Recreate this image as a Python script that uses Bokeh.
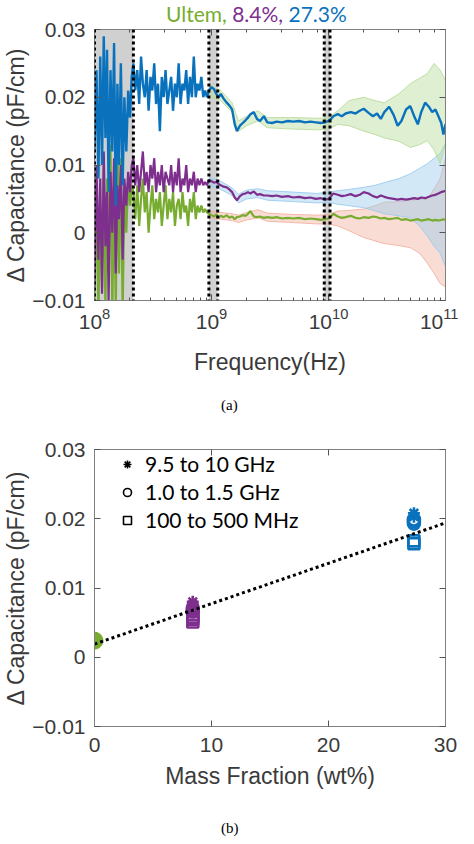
from bokeh.plotting import figure
from bokeh.layouts import column
from bokeh.models import (Span, BoxAnnotation, FixedTicker, LogAxis, LinearAxis,
                          Legend, LegendItem, CustomJSTickFormatter, Div)
from bokeh.embed import file_html
from bokeh.resources import INLINE

# ---------------- data: panel (a) ----------------
freq_ghz = [0.100, 0.104, 0.108, 0.112, 0.116, 0.120, 0.124, 0.128, 0.132, 0.137, 0.142, 0.147,
            0.152, 0.157, 0.162, 0.168, 0.174, 0.180, 0.187, 0.194, 0.201, 0.208,
            0.215, 0.223, 0.232, 0.241, 0.250, 0.259, 0.269, 0.279, 0.290, 0.301,
            0.312, 0.324, 0.336, 0.349, 0.362, 0.376, 0.390, 0.405, 0.420, 0.436,
            0.452, 0.469, 0.487, 0.505, 0.524, 0.544, 0.565, 0.586, 0.608, 0.631,
            0.655, 0.680, 0.706, 0.733, 0.760, 0.789, 0.819, 0.850, 0.882, 0.915,
            0.95, 1.0, 1.05, 1.1, 1.15, 1.2, 1.27, 1.35, 1.42, 1.5,
            1.58, 1.65, 1.75, 1.85, 1.95, 2.05, 2.15, 2.3, 2.45, 2.6,
            2.8, 3.0, 3.3, 3.6, 4.0, 4.5, 5.0, 5.6, 6.3, 7.0,
            7.8, 8.6, 9.3, 10.0,
            10.5, 11, 12, 13, 14, 15.5, 17, 18.5, 20, 22,
            24, 26, 28, 30, 33, 36, 39, 42, 46, 50,
            54, 58, 62, 67, 72, 77, 82, 87, 92, 96, 100]

dc_273 = [0.012, 0.024, 0.008, 0.026, 0.010, 0.029, 0.014, 0.027, 0.006, 0.024, 0.012, 0.028,
          0.004, 0.022, 0.010, 0.025, 0.007, 0.020, 0.012, 0.021, 0.017, 0.023,
          0.025, 0.021, 0.024, 0.019, 0.026, 0.022, 0.020, 0.024, 0.018, 0.023,
          0.021, 0.025, 0.019, 0.022, 0.015, 0.023, 0.020, 0.024, 0.019, 0.021,
          0.023, 0.018, 0.022, 0.020, 0.025, 0.019, 0.022, 0.021, 0.024, 0.019,
          0.023, 0.020, 0.026, 0.020, 0.022, 0.021, 0.023, 0.020, 0.021, 0.020,
          0.0210, 0.0215, 0.0212, 0.0205, 0.0200, 0.0205, 0.0198, 0.0192, 0.0188, 0.0182,
          0.0160, 0.0150, 0.0158, 0.0162, 0.0166, 0.0170, 0.0175, 0.0178, 0.0168, 0.0165,
          0.0172, 0.0163, 0.0162, 0.0164, 0.0163, 0.0165, 0.0164, 0.0165, 0.0163, 0.0164,
          0.0163, 0.0162, 0.0163, 0.0165,
          0.0168, 0.0172, 0.0175, 0.0172, 0.0176, 0.0178, 0.0176, 0.0180, 0.0183, 0.0177,
          0.0172, 0.0176, 0.0168, 0.0178, 0.0186, 0.0174, 0.0158, 0.0165, 0.0182, 0.0187,
          0.0172, 0.0160, 0.0178, 0.0192, 0.0186, 0.0178, 0.0182, 0.0172, 0.0162, 0.0145, 0.0160]

dc_84 = [-0.008, 0.010, -0.004, 0.008, -0.009, 0.012, -0.002, 0.006, -0.010, 0.009, 0.000, 0.011,
         -0.006, 0.007, 0.002, 0.010, -0.004, 0.008, 0.004, 0.009, 0.006, 0.010,
         0.011, 0.007, 0.010, 0.006, 0.009, 0.012, 0.007, 0.009, 0.006, 0.010,
         0.008, 0.011, 0.006, 0.009, 0.007, 0.010, 0.006, 0.009, 0.008, 0.007,
         0.010, 0.006, 0.009, 0.007, 0.011, 0.006, 0.008, 0.007, 0.010, 0.006,
         0.008, 0.007, 0.009, 0.006, 0.008, 0.007, 0.008, 0.007, 0.0075, 0.007,
         0.0078, 0.0076, 0.0074, 0.0075, 0.0072, 0.0070, 0.0068, 0.0067, 0.0064, 0.0060,
         0.0052, 0.0048, 0.0054, 0.0057, 0.0058, 0.0060, 0.0058, 0.0061, 0.0056, 0.0057,
         0.0055, 0.0055, 0.0054, 0.0055, 0.0053, 0.0054, 0.0052, 0.0053, 0.0051, 0.0052,
         0.0050, 0.0051, 0.0049, 0.0050,
         0.0054, 0.0058, 0.0056, 0.0054, 0.0055, 0.0057, 0.0054, 0.0056, 0.0060, 0.0058,
         0.0054, 0.0052, 0.0055, 0.0053, 0.0051, 0.0050, 0.0049, 0.0050, 0.0049, 0.0050,
         0.0051, 0.0050, 0.0052, 0.0051, 0.0053, 0.0055, 0.0056, 0.0058, 0.0060, 0.0061, 0.0062]

dc_ultem = [-0.010, 0.006, -0.012, 0.004, -0.008, 0.010, -0.012, 0.008, -0.004, 0.013, -0.012, 0.009,
            -0.012, 0.015, -0.006, 0.011, -0.012, 0.006, 0.000, 0.008, 0.004, 0.007,
            0.006, 0.002, 0.007, 0.001, 0.005, 0.008, 0.003, 0.006, 0.000, 0.004,
            0.007, 0.002, 0.005, 0.003, 0.006, 0.001, 0.004, 0.007, 0.002, 0.005,
            0.003, 0.006, 0.001, 0.004, 0.005, 0.002, 0.006, 0.003, 0.004, 0.001,
            0.005, 0.003, 0.006, 0.002, 0.004, 0.003, 0.004, 0.003, 0.0035, 0.003,
            0.0028, 0.0026, 0.0024, 0.0027, 0.0022, 0.0025, 0.0023, 0.0026, 0.0022, 0.0024,
            0.0020, 0.0023, 0.0024, 0.0026, 0.0025, 0.0028, 0.0032, 0.0024, 0.0023, 0.0024,
            0.0022, 0.0023, 0.0022, 0.0023, 0.0021, 0.0022, 0.0021, 0.0022, 0.0020, 0.0021,
            0.0020, 0.0019, 0.0020, 0.0021,
            0.0024, 0.0028, 0.0024, 0.0022, 0.0023, 0.0025, 0.0022, 0.0021, 0.0023, 0.0022,
            0.0024, 0.0023, 0.0021, 0.0022, 0.0020, 0.0021, 0.0022, 0.0019, 0.0020, 0.0018,
            0.0019, 0.0020, 0.0018, 0.0019, 0.0020, 0.0018, 0.0019, 0.0018, 0.0019, 0.0020, 0.0019]

band_freq_ghz = [0.95, 1.2, 1.5, 1.7, 2.0, 2.5, 3.0, 5.0, 8.0, 10.0, 12.0,
                 15.0, 20.0, 25.0, 30.0, 40.0, 50.0, 60.0, 70.0, 80.0, 90.0, 100.0]
band_273_hi = [0.0218, 0.0210, 0.0192, 0.0165, 0.0172, 0.0180, 0.0170, 0.0170, 0.0169, 0.0170, 0.0180,
               0.0195, 0.0200, 0.0195, 0.0192, 0.0205, 0.0220, 0.0228, 0.0235, 0.0250, 0.0240, 0.0225]
band_273_lo = [0.0200, 0.0195, 0.0178, 0.0150, 0.0158, 0.0165, 0.0155, 0.0153, 0.0152, 0.0153, 0.0160,
               0.0158, 0.0150, 0.0145, 0.0140, 0.0135, 0.0126, 0.0130, 0.0136, 0.0122, 0.0102, 0.0132]
band_84_hi = [0.0082, 0.0076, 0.0066, 0.0057, 0.0063, 0.0065, 0.0062, 0.0060, 0.0058, 0.0060, 0.0062,
              0.0064, 0.0067, 0.0070, 0.0074, 0.0080, 0.0087, 0.0095, 0.0102, 0.0110, 0.0117, 0.0132]
band_84_lo = [0.0070, 0.0064, 0.0055, 0.0044, 0.0050, 0.0052, 0.0048, 0.0046, 0.0044, 0.0045, 0.0042,
              0.0040, 0.0037, 0.0032, 0.0028, 0.0025, 0.0022, 0.0010, -0.0005, -0.0020, -0.0030, -0.0050]
band_ultem_hi = [0.0032, 0.0030, 0.0028, 0.0026, 0.0030, 0.0034, 0.0029, 0.0027, 0.0026, 0.0027, 0.0032,
                 0.0033, 0.0035, 0.0040, 0.0045, 0.0046, 0.0048, 0.0049, 0.0050, 0.0065, 0.0080, 0.0110]
band_ultem_lo = [0.0022, 0.0020, 0.0018, 0.0015, 0.0019, 0.0022, 0.0017, 0.0015, 0.0013, 0.0013, 0.0010,
                 0.0003, -0.0007, -0.0012, -0.0016, -0.0019, -0.0022, -0.0030, -0.0045, -0.0060, -0.0075, -0.0080]

window_lo_ghz = [0.100, 0.95, 9.2]
window_hi_ghz = [0.215, 1.13, 10.3]

y_ticks = [-0.01, 0, 0.01, 0.02, 0.03]
title_parts = ["Ultem,", "8.4%,", "27.3%"]

# ---------------- data: panel (b) ----------------
mass_frac = [0, 8.4, 27.3]
ultem_pts = [0.0024]
p84_ast = [0.0080, 0.0076, 0.0073]
p84_circ = [0.0071, 0.0068, 0.0066]
p84_sq = [0.0062, 0.0058, 0.0055, 0.0051]
p273_ast = [0.0208, 0.0203]
p273_circ = [0.0199, 0.0196, 0.0193]
p273_sq = [0.0168, 0.0164]
fit_x = [0, 30]
fit_y = [0.0019, 0.0194]
mass_ticks = [0, 10, 20, 30]
legend_labels = ["9.5 to 10 GHz", "1.0 to 1.5 GHz", "100 to 500 MHz"]

C_BLUE = "#0a72bd"
C_PURPLE = "#7e2f8e"
C_GREEN = "#77ac30"
TXT = "#3a3a3a"


def style_axis(ax):
    ax.axis_line_color = "#808080"
    ax.major_tick_line_color = "#555555"
    ax.minor_tick_line_color = "#555555"
    ax.major_tick_in = 6
    ax.major_tick_out = 0
    ax.minor_tick_in = 3
    ax.minor_tick_out = 0
    ax.major_label_text_font = "Liberation Sans"
    ax.major_label_text_font_size = "21px"
    ax.major_label_text_color = TXT
    ax.axis_label_text_font = "Liberation Sans"
    ax.axis_label_text_font_size = "23px"
    ax.axis_label_text_font_style = "normal"
    ax.axis_label_text_color = TXT


def add_box_axes(p, top_axis, x_ticker, y_ticker):
    right = LinearAxis(ticker=y_ticker)
    for ax, loc in ((top_axis, "above"), (right, "right")):
        if x_ticker is not None and ax is top_axis:
            ax.ticker = x_ticker
        ax.formatter = CustomJSTickFormatter(code="return ''")
        ax.axis_line_color = "#808080"
        ax.major_tick_line_color = "#555555"
        ax.minor_tick_line_color = "#555555"
        ax.major_tick_in = 6
        ax.major_tick_out = 0
        ax.minor_tick_in = 3
        ax.minor_tick_out = 0
        ax.major_label_text_font_size = "1px"
        ax.major_label_standoff = 0
        p.add_layout(ax, loc)


# ---------------- title ----------------
title_colors = [C_GREEN, C_PURPLE, C_BLUE]
title_html = " ".join('<span style="color:%s">%s</span>' % (c, t) for t, c in zip(title_parts, title_colors))
title_div = Div(text=title_html, width=458, height=28, margin=(0, 0, -16, 0),
                styles={"font-family": "Lato", "font-size": "21px", "line-height": "24px",
                        "padding-top": "2px", "padding-left": "166px", "white-space": "nowrap"})

# ---------------- panel (a) ----------------
freq = [f * 1e9 for f in freq_ghz]
band_freq = [f * 1e9 for f in band_freq_ghz]

pa = figure(width=458, height=388, x_axis_type="log", x_range=(1e8, 1e11), y_range=(-0.01, 0.03),
            output_backend="svg", toolbar_location=None,
            min_border_left=84, min_border_right=13, min_border_top=17, min_border_bottom=100)
pa.grid.visible = False
pa.outline_line_color = "#808080"
pa.border_fill_color = None

for lo, hi in zip(window_lo_ghz, window_hi_ghz):
    pa.add_layout(BoxAnnotation(left=lo * 1e9, right=hi * 1e9, fill_color="#c8c8c8",
                                fill_alpha=0.85, line_color=None, level="underlay"))

for lo, hi, col in ((band_ultem_lo, band_ultem_hi, "#f2b3a0"),
                    (band_84_lo, band_84_hi, "#9ccbee"),
                    (band_273_lo, band_273_hi, "#b9dc9c")):
    pa.varea(x=band_freq, y1=lo, y2=hi, fill_color=col, fill_alpha=0.45)
    pa.line(band_freq, lo, line_color=col, line_width=1, line_alpha=0.9)
    pa.line(band_freq, hi, line_color=col, line_width=1, line_alpha=0.9)

pa.line(freq, dc_ultem, line_color=C_GREEN, line_width=2.2)
pa.line(freq, dc_84, line_color=C_PURPLE, line_width=2.2)
pa.line(freq, dc_273, line_color=C_BLUE, line_width=2.4)

for lo, hi in zip(window_lo_ghz, window_hi_ghz):
    for loc in (lo * 1e9, hi * 1e9):
        pa.add_layout(Span(location=loc, dimension="height", line_color="black",
                           line_width=3, line_dash="3 3"))

style_axis(pa.xaxis[0])
style_axis(pa.yaxis[0])
pa.xaxis[0].axis_label = "Frequency(Hz)"
pa.xaxis[0].major_label_standoff = 7
pa.xaxis[0].axis_label_standoff = 17
pa.yaxis[0].axis_label = "\u0394 Capacitance (pF/cm)"
pa.yaxis[0].ticker = FixedTicker(ticks=y_ticks)
pa.yaxis[0].major_label_overrides = {0: "0"}
pa.yaxis[0].major_label_standoff = 9
pa.yaxis[0].axis_label_standoff = 0
add_box_axes(pa, LogAxis(), None, FixedTicker(ticks=y_ticks))

a_div = Div(text="(a)", width=458, height=20, margin=0,
            styles={"font-family": "Liberation Serif", "font-size": "15px", "line-height": "10px",
                    "padding-left": "221px", "color": "black", "overflow": "visible"})

# ---------------- panel (b) ----------------
pb = figure(width=458, height=380, x_range=(0, 30), y_range=(-0.01, 0.03),
            output_backend="svg", toolbar_location=None,
            min_border_left=84, min_border_right=13, min_border_top=29, min_border_bottom=74)
pb.grid.visible = False
pb.outline_line_color = "#808080"
pb.border_fill_color = None

pb.scatter([mass_frac[0]] * len(ultem_pts), ultem_pts, marker="circle", size=17,
           fill_color=C_GREEN, line_color=C_GREEN)
for vals, mk, sz, col, xi in ((p84_sq, "square", 11, C_PURPLE, 1), (p84_circ, "circle", 12, C_PURPLE, 1),
                              (p84_ast, "asterisk", 12, C_PURPLE, 1),
                              (p273_sq, "square", 11, C_BLUE, 2), (p273_circ, "circle", 12, C_BLUE, 2),
                              (p273_ast, "asterisk", 12, C_BLUE, 2)):
    pb.scatter([mass_frac[xi]] * len(vals), vals, marker=mk, size=sz, fill_color=None,
               line_color=col, line_width=2.6)

pb.line(fit_x, fit_y, line_color="black", line_width=3, line_dash="3 3")

# legend keys: hidden black copies of the 27.3 % markers (only used for the legend glyphs)
leg_r = [pb.scatter([mass_frac[2]] * len(p273_ast), p273_ast, marker="asterisk", size=9,
                    line_color="black", line_width=1.6, visible=False),
         pb.scatter([mass_frac[2]] * len(p273_circ), p273_circ, marker="circle", size=15,
                    fill_color=None, line_color="black", line_width=1.6, visible=False),
         pb.scatter([mass_frac[2]] * len(p273_sq), p273_sq, marker="square", size=16,
                    fill_color=None, line_color="black", line_width=1.6, visible=False)]
legend = Legend(items=[LegendItem(label=lab, renderers=[r]) for lab, r in zip(legend_labels, leg_r)],
                location=(23, 194), border_line_color=None, background_fill_alpha=0,
                inactive_fill_alpha=0, click_policy="none",
                padding=0, margin=0, spacing=3, glyph_width=20, glyph_height=20, label_height=20,
                label_standoff=8, label_text_font="Lato", label_text_font_size="21px",
                label_text_color="black")
pb.add_layout(legend)

style_axis(pb.xaxis[0])
style_axis(pb.yaxis[0])
pb.xaxis[0].axis_label = "Mass Fraction (wt%)"
pb.xaxis[0].ticker = FixedTicker(ticks=mass_ticks)
pb.xaxis[0].major_label_standoff = 11
pb.xaxis[0].axis_label_standoff = 8
pb.yaxis[0].axis_label = "\u0394 Capacitance (pF/cm)"
pb.yaxis[0].ticker = FixedTicker(ticks=y_ticks)
pb.yaxis[0].major_label_overrides = {0: "0"}
pb.yaxis[0].major_label_standoff = 9
pb.yaxis[0].axis_label_standoff = 0
add_box_axes(pb, LinearAxis(), FixedTicker(ticks=mass_ticks), FixedTicker(ticks=y_ticks))

b_div = Div(text="(b)", width=458, height=28, margin=0,
            styles={"font-family": "Liberation Serif", "font-size": "15px", "line-height": "56px",
                    "padding-left": "221px", "color": "black", "overflow": "visible"})

layout = column(title_div, pa, a_div, pb, b_div, spacing=0)
open("out.html", "w").write(file_html(layout, INLINE))
